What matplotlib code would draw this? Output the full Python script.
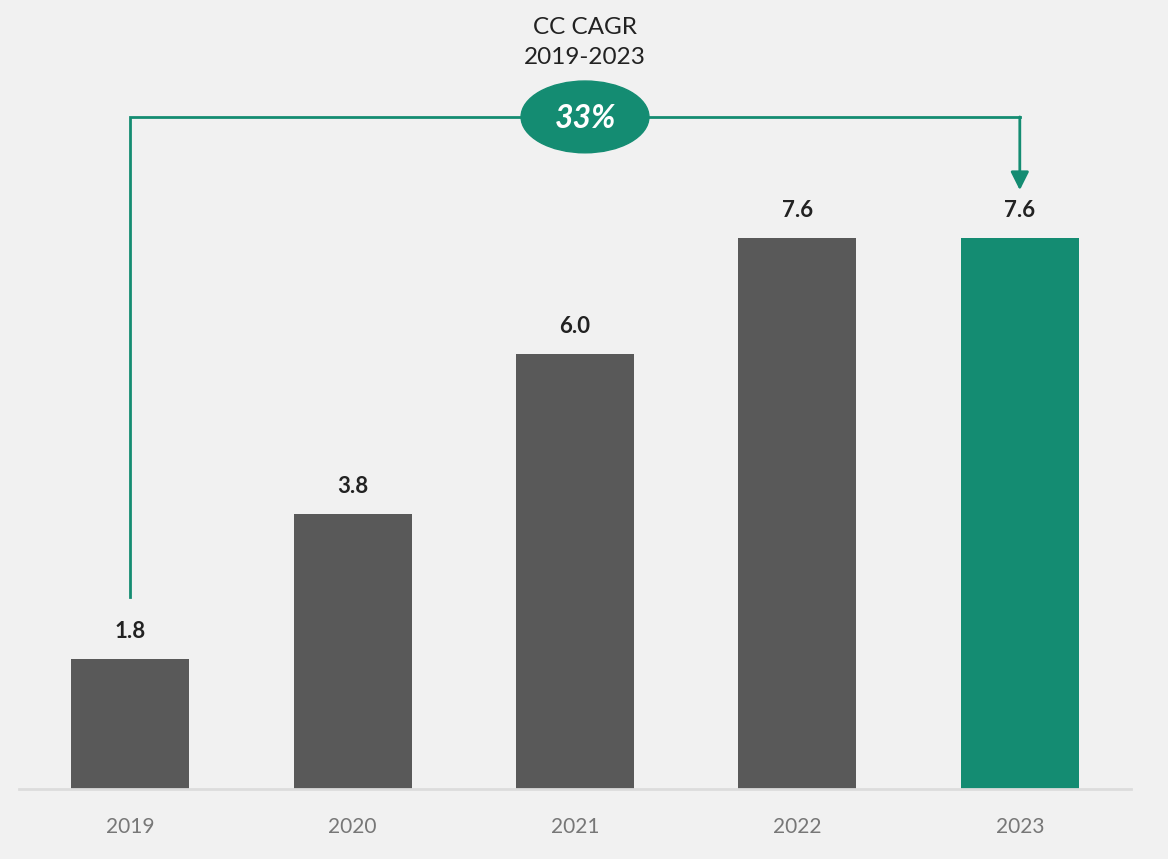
import matplotlib
matplotlib.use("Agg")
import matplotlib.pyplot as plt
from matplotlib.patches import Ellipse

years = ["2019", "2020", "2021", "2022", "2023"]
values = [1.8, 3.8, 6.0, 7.6, 7.6]
value_labels = ["1.8", "3.8", "6.0", "7.6", "7.6"]
cagr_title = "CC CAGR\n2019-2023"
cagr_value = "33%"

BG = "#f1f1f1"
GREY = "#595959"
GREEN = "#148c72"

plt.rcParams["font.family"] = ["Lato", "DejaVu Sans"]

fig = plt.figure(figsize=(11.68, 8.59), dpi=100, facecolor=BG)
ax = fig.add_axes([19 / 1168, 70 / 859, 1112 / 1168, 789 / 859])
ax.set_facecolor(BG)

x = list(range(len(years)))
colors = [GREY] * (len(years) - 1) + [GREEN]
ax.bar(x, values, width=0.53, color=colors, zorder=2)

for xi, v, lab in zip(x, values, value_labels):
    ax.text(xi, v + 0.23, lab, ha="center", va="bottom", fontsize=16,
            fontweight="bold", color="#222222")

ax.set_xlim(-0.5, 4.5)
ax.set_ylim(0, 789 / 72.5)
ax.set_xticks(x)
ax.set_xticklabels(years, fontsize=15, color="#777777")
ax.tick_params(axis="x", length=0, pad=20)
ax.set_yticks([])
for side in ["top", "right", "left"]:
    ax.spines[side].set_visible(False)
ax.spines["bottom"].set_color("#dcdcdc")
ax.spines["bottom"].set_linewidth(2)

# CAGR bracket
y_top = 9.27
y_start = values[0] + 0.85
y_tip = values[-1] + 0.66
ax.plot([x[0], x[0], x[-1]], [y_start, y_top, y_top], color=GREEN, lw=2,
        solid_joinstyle="miter", zorder=3)
ax.annotate("", xy=(x[-1], y_tip), xytext=(x[-1], y_top),
            arrowprops=dict(arrowstyle="-|>,head_length=1.1,head_width=0.55",
                            color=GREEN, lw=2, shrinkA=0, shrinkB=0),
            zorder=3)

ell = Ellipse((2.045, y_top), width=0.575, height=0.99, color=GREEN, zorder=4)
ax.add_patch(ell)
ax.text(2.045, y_top - 0.02, cagr_value, ha="center", va="center", fontsize=23,
        fontweight="bold", fontstyle="italic", color="white", zorder=5)
ax.text(2.045, 10.30, cagr_title, ha="center", va="center", fontsize=17.5,
        color="#222222", linespacing=1.55)

fig.savefig("out.png", dpi=100, facecolor=BG)
